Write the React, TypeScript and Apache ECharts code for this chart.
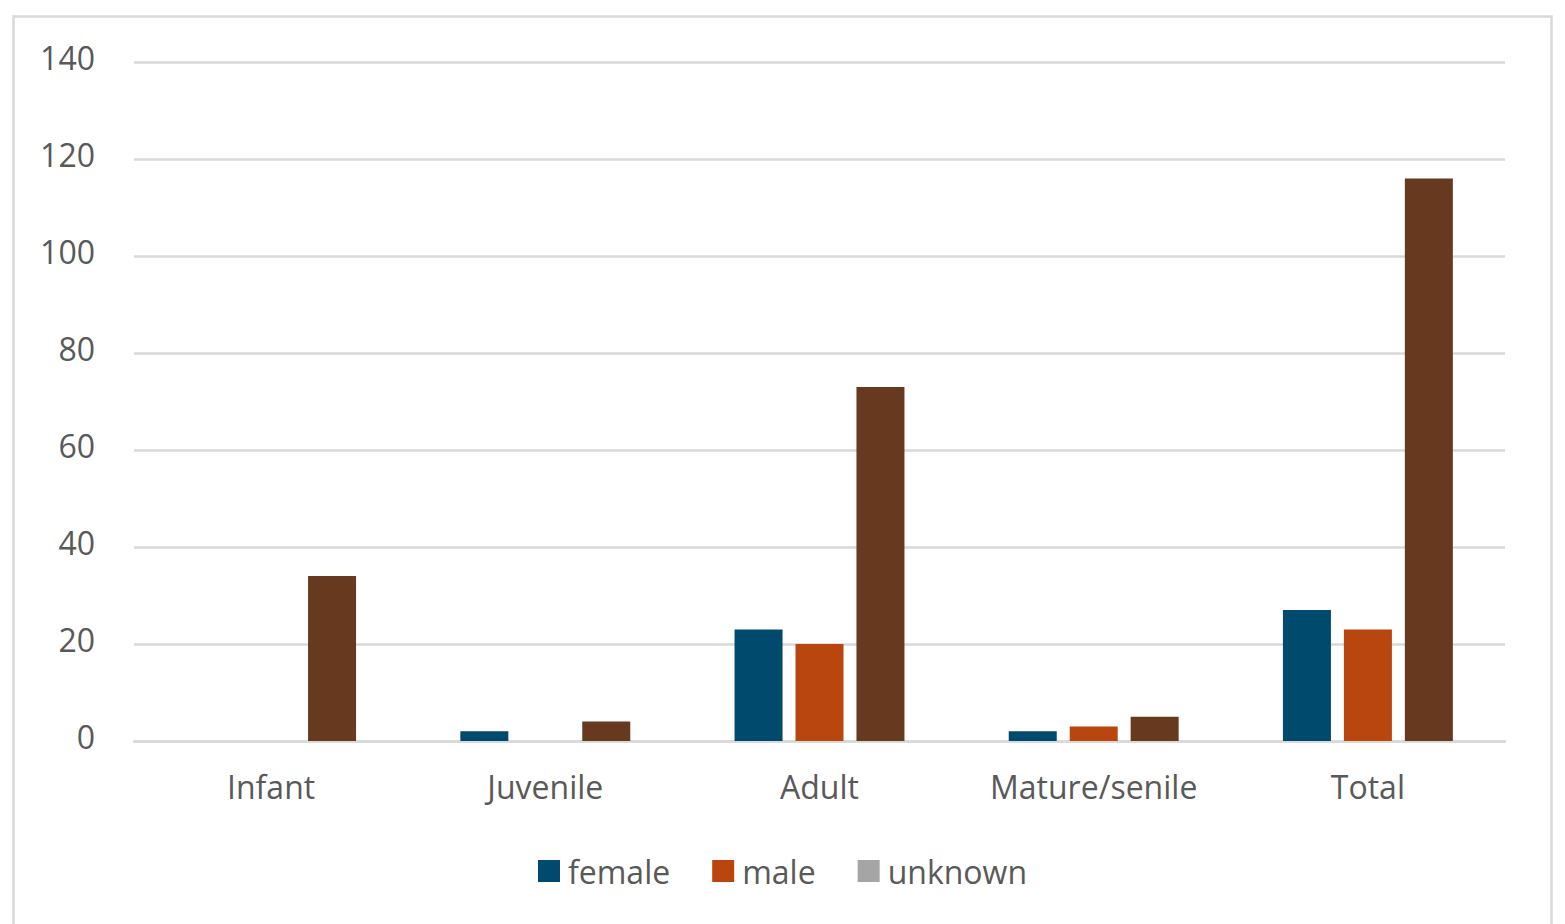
import React, { useEffect, useRef } from 'react';
import * as echarts from 'echarts';

const categories = ['Infant', 'Juvenile', 'Adult', 'Mature/senile', 'Total'];
const female = [0, 2, 23, 2, 27];
const male = [0, 0, 20, 3, 23];
const unknown = [34, 4, 73, 5, 116];

const FONT = '"Open Sans", "Noto Sans", sans-serif';
const TEXT = '#595959';
const GRID = '#d9d9d9';

const App = () => {
  const chartRef = useRef<HTMLDivElement>(null);

  useEffect(() => {
    let chart: echarts.ECharts | null = null;
    if (chartRef.current) {
      chart = echarts.init(chartRef.current, undefined, { renderer: 'svg' });
      const option: echarts.EChartsOption = {
        animation: false,
        textStyle: { fontFamily: FONT },
        graphic: [
          {
            type: 'rect',
            left: 11,
            top: 14,
            shape: { width: 1538, height: 960 },
            style: { fill: 'none', stroke: GRID, lineWidth: 2.5 },
            silent: true,
          },
        ],
        grid: { left: 134, right: 60, top: 62, bottom: 183 },
        legend: {
          bottom: 32,
          left: 'center',
          itemWidth: 22,
          itemHeight: 22,
          itemGap: 42,
          icon: 'rect',
          textStyle: { color: TEXT, fontSize: 32, fontFamily: FONT, padding: [0, 0, 0, 3] },
          data: [
            { name: 'female' },
            { name: 'male' },
            { name: 'unknown', itemStyle: { color: '#a5a5a5' } },
          ],
        },
        xAxis: {
          type: 'category',
          data: categories,
          axisLine: { lineStyle: { color: GRID, width: 2.5 } },
          axisTick: { show: false },
          axisLabel: { color: TEXT, fontSize: 32, margin: 29, fontFamily: FONT },
        },
        yAxis: {
          type: 'value',
          min: 0,
          max: 140,
          interval: 20,
          axisLine: { show: false },
          axisTick: { show: false },
          axisLabel: {
            color: TEXT,
            fontSize: 32,
            margin: 39,
            fontFamily: FONT,
            lineHeight: 10,
            verticalAlign: 'bottom',
          },
          splitLine: { lineStyle: { color: GRID, width: 2.5 } },
        },
        series: [
          {
            name: 'female',
            type: 'bar',
            data: female,
            barWidth: 48,
            barGap: '27%',
            itemStyle: { color: '#004a6e' },
          },
          {
            name: 'male',
            type: 'bar',
            data: male,
            barWidth: 48,
            barGap: '27%',
            itemStyle: { color: '#b8460e' },
          },
          {
            name: 'unknown',
            type: 'bar',
            data: unknown,
            barWidth: 48,
            barGap: '27%',
            itemStyle: { color: '#673a1f' },
          },
        ],
      };
      chart.setOption(option);
    }
    return () => {
      chart?.dispose();
    };
  }, []);

  return (
    <div
      ref={chartRef}
      style={{ position: 'fixed', left: 0, top: 0, width: '1565px', height: '924px', background: '#fff' }}
    />
  );
};

export default App;
